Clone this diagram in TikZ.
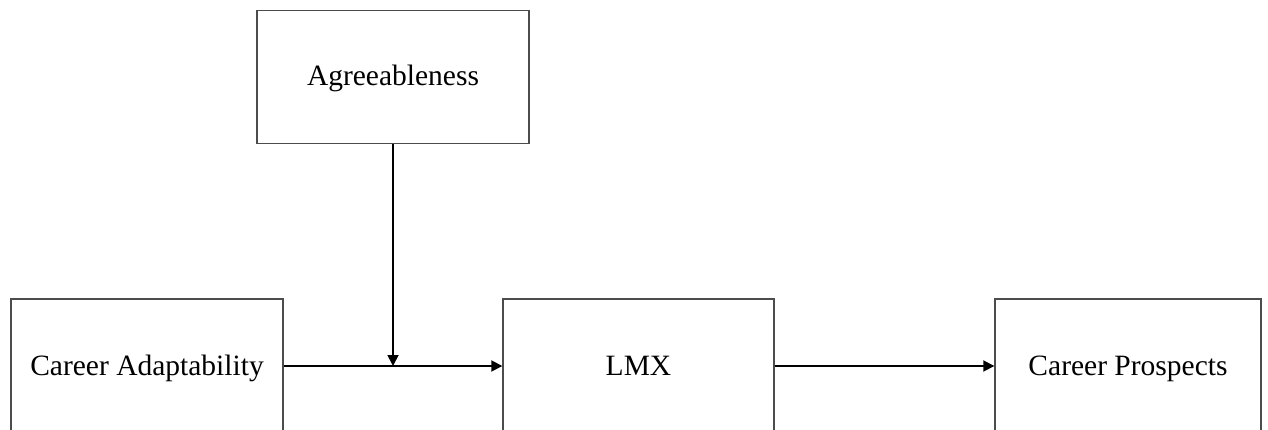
\documentclass[tikz,border=0pt]{standalone}
\usepackage{fontspec}
\setmainfont{Liberation Serif}
\usetikzlibrary{arrows.meta}
\begin{document}
\begin{tikzpicture}[x=1pt,y=-1pt,
  box/.style={draw=black!70,line width=1.4pt,inner sep=0pt,minimum height=134pt,
    font=\fontsize{29.5}{34}\selectfont,text=black,text height=22pt,text depth=4pt},
  arr/.style={line width=1.8pt,-{Triangle[length=11pt,width=11pt]}}]
\useasboundingbox (0,0) rectangle (1268,430);
\clip (0,0) rectangle (1268,430);
\node[box,minimum width=272pt,minimum height=133pt] (agr) at (393,77) {Agreeableness};
\node[box,minimum width=272pt] (ca) at (147,366) {Career Adaptability};
\node[box,minimum width=271pt] (lmx) at (638.5,366) {LMX};
\node[box,minimum width=266pt] (cp) at (1128,366) {Career Prospects};
\coordinate (m) at (agr.south |- ca.east);
\draw[arr] (ca.east) -- (lmx.west);
\draw[arr] (agr.south) -- (m);
\draw[arr] (lmx.east) -- (cp.west);
\end{tikzpicture}
\end{document}
